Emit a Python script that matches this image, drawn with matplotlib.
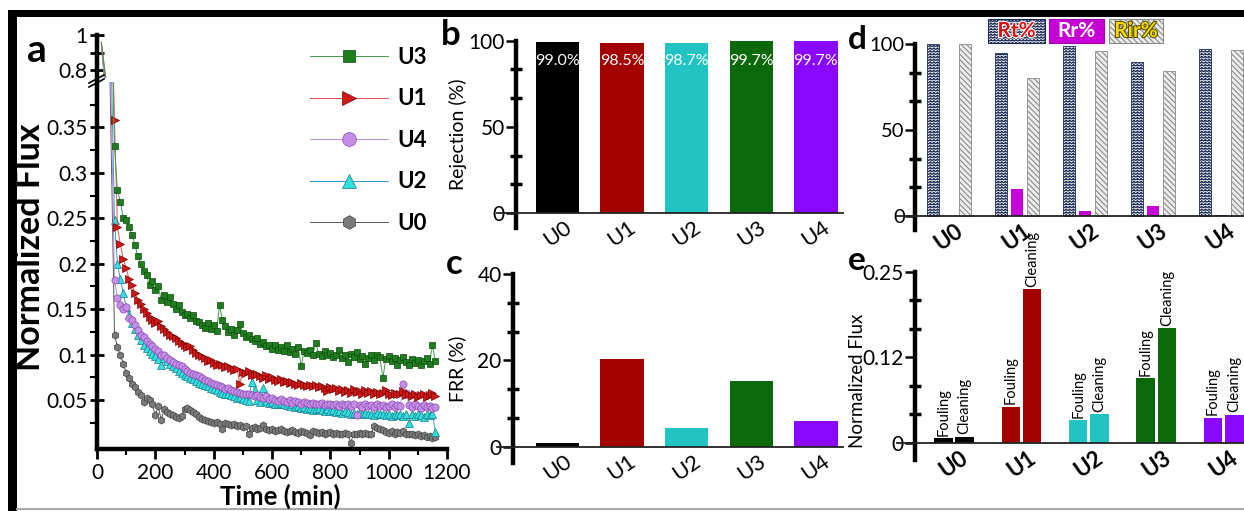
import warnings
warnings.filterwarnings('ignore')
import numpy as np
import matplotlib
matplotlib.use('Agg')
import matplotlib.pyplot as plt
from matplotlib import hatch as mhatch
from matplotlib.path import Path
from matplotlib.patches import Rectangle
from matplotlib.lines import Line2D
from matplotlib.ticker import MultipleLocator, FixedLocator
import matplotlib.patheffects as pe

plt.rcParams['font.family'] = ['Lato', 'DejaVu Sans']
plt.rcParams['hatch.linewidth'] = 0.8

# ---------------- data ----------------
TIME = list(range(60, 1170, 10))
START_TIME = 15
START_VALUES = {'U3': 0.96, 'U1': 0.96, 'U4': 0.95, 'U2': 0.95, 'U0': 0.94}

U3_FLUX = [0.329, 0.281, 0.268, 0.250, 0.248, 0.240, 0.232, 0.221, 0.208, 0.200,
           0.192, 0.187, 0.176, 0.181, 0.171, 0.175, 0.160, 0.166, 0.158, 0.163,
           0.156, 0.150, 0.155, 0.147, 0.143, 0.145, 0.140, 0.143, 0.137, 0.136,
           0.133, 0.129, 0.135, 0.128, 0.132, 0.126, 0.154, 0.138, 0.131, 0.125,
           0.128, 0.122, 0.127, 0.134, 0.124, 0.119, 0.121, 0.117, 0.115, 0.118,
           0.112, 0.114, 0.109, 0.111, 0.106, 0.110, 0.105, 0.108, 0.104, 0.111,
           0.103, 0.106, 0.101, 0.108, 0.087, 0.104, 0.102, 0.105, 0.100, 0.113,
           0.101, 0.098, 0.104, 0.099, 0.102, 0.097, 0.100, 0.105, 0.096, 0.099,
           0.092, 0.101, 0.097, 0.103, 0.095, 0.098, 0.090, 0.096, 0.099, 0.094,
           0.100, 0.097, 0.074, 0.095, 0.098, 0.093, 0.096, 0.089, 0.094, 0.097,
           0.092, 0.088, 0.095, 0.091, 0.094, 0.089, 0.093, 0.096, 0.090, 0.110,
           0.093]
U1_FLUX = [0.358, 0.240, 0.222, 0.205, 0.195, 0.183, 0.176, 0.168, 0.160, 0.156,
           0.150, 0.146, 0.141, 0.138, 0.135, 0.137, 0.131, 0.128, 0.125, 0.122,
           0.120, 0.118, 0.115, 0.113, 0.110, 0.108, 0.109, 0.105, 0.102, 0.100,
           0.098, 0.096, 0.093, 0.094, 0.091, 0.089, 0.090, 0.088, 0.086, 0.087,
           0.085, 0.083, 0.084, 0.068, 0.081, 0.080, 0.082, 0.078, 0.077, 0.079,
           0.076, 0.074, 0.077, 0.073, 0.075, 0.072, 0.071, 0.073, 0.070, 0.071,
           0.069, 0.070, 0.068, 0.067, 0.069, 0.066, 0.065, 0.067, 0.065, 0.066,
           0.064, 0.065, 0.063, 0.060, 0.064, 0.062, 0.063, 0.060, 0.062, 0.059,
           0.061, 0.058, 0.062, 0.059, 0.060, 0.057, 0.061, 0.058, 0.060, 0.057,
           0.059, 0.056, 0.058, 0.061, 0.057, 0.055, 0.058, 0.056, 0.057, 0.060,
           0.055, 0.057, 0.054, 0.056, 0.053, 0.055, 0.057, 0.053, 0.055, 0.058,
           0.054]
U4_FLUX = [0.182, 0.162, 0.155, 0.150, 0.152, 0.140, 0.138, 0.132, 0.127, 0.122,
           0.119, 0.115, 0.112, 0.109, 0.106, 0.104, 0.100, 0.099, 0.096, 0.094,
           0.092, 0.090, 0.088, 0.087, 0.084, 0.082, 0.080, 0.079, 0.077, 0.076,
           0.074, 0.072, 0.071, 0.069, 0.068, 0.067, 0.065, 0.064, 0.062, 0.063,
           0.061, 0.060, 0.059, 0.058, 0.057, 0.056, 0.057, 0.055, 0.054, 0.055,
           0.053, 0.052, 0.054, 0.051, 0.052, 0.050, 0.049, 0.051, 0.049, 0.048,
           0.050, 0.047, 0.049, 0.048, 0.046, 0.048, 0.047, 0.045, 0.047, 0.046,
           0.045, 0.047, 0.044, 0.046, 0.045, 0.044, 0.046, 0.043, 0.045, 0.044,
           0.046, 0.043, 0.045, 0.033, 0.044, 0.042, 0.045, 0.043, 0.044, 0.042,
           0.045, 0.043, 0.044, 0.042, 0.043, 0.045, 0.042, 0.044, 0.043, 0.068,
           0.058, 0.044, 0.042, 0.045, 0.043, 0.041, 0.044, 0.042, 0.043, 0.041,
           0.042]
U2_FLUX = [0.248, 0.200, 0.183, 0.168, 0.152, 0.143, 0.135, 0.128, 0.121, 0.116,
           0.111, 0.107, 0.104, 0.101, 0.098, 0.095, 0.088, 0.096, 0.093, 0.090,
           0.087, 0.085, 0.082, 0.080, 0.078, 0.076, 0.074, 0.073, 0.071, 0.069,
           0.068, 0.066, 0.065, 0.063, 0.062, 0.061, 0.059, 0.058, 0.057, 0.056,
           0.055, 0.054, 0.052, 0.053, 0.051, 0.050, 0.049, 0.070, 0.061, 0.050,
           0.048, 0.063, 0.049, 0.047, 0.048, 0.046, 0.045, 0.047, 0.045, 0.044,
           0.043, 0.045, 0.042, 0.043, 0.041, 0.042, 0.040, 0.041, 0.039, 0.040,
           0.041, 0.039, 0.038, 0.040, 0.038, 0.039, 0.037, 0.038, 0.036, 0.038,
           0.037, 0.035, 0.036, 0.034, 0.037, 0.035, 0.036, 0.034, 0.035, 0.033,
           0.036, 0.034, 0.035, 0.033, 0.034, 0.032, 0.035, 0.033, 0.034, 0.032,
           0.034, 0.025, 0.035, 0.032, 0.034, 0.033, 0.031, 0.034, 0.033, 0.035,
           0.015]
U0_FLUX = [0.122, 0.108, 0.100, 0.090, 0.080, 0.074, 0.068, 0.064, 0.059, 0.055,
           0.048, 0.052, 0.050, 0.045, 0.033, 0.043, 0.028, 0.040, 0.037, 0.035,
           0.033, 0.031, 0.030, 0.032, 0.040, 0.041, 0.039, 0.037, 0.034, 0.031,
           0.029, 0.028, 0.027, 0.026, 0.025, 0.026, 0.024, 0.018, 0.025, 0.023,
           0.022, 0.023, 0.021, 0.022, 0.020, 0.021, 0.012, 0.019, 0.020, 0.018,
           0.019, 0.022, 0.018, 0.017, 0.018, 0.016, 0.017, 0.018, 0.016, 0.015,
           0.016, 0.017, 0.015, 0.014, 0.016, 0.015, 0.014, 0.011, 0.016, 0.015,
           0.014, 0.015, 0.013, 0.014, 0.015, 0.013, 0.014, 0.012, 0.013, 0.014,
           0.012, 0.003, 0.013, 0.012, 0.014, 0.013, 0.014, 0.012, 0.013, 0.021,
           0.019, 0.018, 0.017, 0.015, 0.014, 0.016, 0.013, 0.015, 0.014, 0.016,
           0.013, 0.012, 0.013, 0.011, 0.012, 0.010, 0.011, 0.009, 0.010, 0.008,
           0.009]

MEMBRANES = ['U0', 'U1', 'U2', 'U3', 'U4']
REJECTION = [99.0, 98.5, 98.7, 99.7, 99.7]
REJECTION_LABELS = ['99.0%', '98.5%', '98.7%', '99.7%', '99.7%']
FRR = [0.8, 20.3, 4.4, 15.2, 6.0]
RT = [100.0, 95.1, 99.0, 89.9, 97.2]
RR = [0.0, 15.4, 2.9, 5.8, 0.6]
RIR = [100.0, 80.1, 95.9, 84.4, 96.7]
FOULING = [0.0064, 0.0526, 0.0327, 0.0941, 0.0365]
CLEANING = [0.0088, 0.2243, 0.0415, 0.1672, 0.0405]

BAR_COLORS = ['#000000', '#a30000', '#22c3c3', '#0a690a', '#8a08ff']

# ---------------- custom zig-zag hatch ----------------
class ZigZagHatch(mhatch.HatchPatternBase):
    def __init__(self, hatch, density):
        self.num_rows = int(hatch.count('z') * density)
        self.teeth = int(self.num_rows * 0.8)
        self.num_vertices = self.num_rows * (2 * self.teeth + 1) if self.num_rows else 0

    def set_vertices_and_codes(self, vertices, codes):
        n, k = self.num_rows, self.teeth
        m = 2 * k + 1
        amp = 0.28 / n
        xs = np.linspace(0, 1, m)
        offs = np.where(np.arange(m) % 2 == 0, -amp, amp)
        for r in range(n):
            i = r * m
            vertices[i:i + m, 0] = xs
            vertices[i:i + m, 1] = (r + 0.5) / n + offs
            codes[i] = Path.MOVETO
            codes[i + 1:i + m] = Path.LINETO

mhatch._hatch_types.append(ZigZagHatch)

# ---------------- figure ----------------
W, H = 1244, 511
fig = plt.figure(figsize=(W / 100, H / 100), dpi=100)


def ax_px(x0, y0, x1, y1):
    return fig.add_axes([x0 / W, 1 - y1 / H, (x1 - x0) / W, (y1 - y0) / H])


def fx(x):
    return x / W


def fy(y):
    return 1 - y / H

# frame decorations
fig.add_artist(Rectangle((fx(8), fy(17)), fx(1244 - 8), 7 / H, transform=fig.transFigure,
                         facecolor='black', edgecolor='none'))
fig.add_artist(Rectangle((fx(8), 0), 9 / W, fy(10), transform=fig.transFigure,
                         facecolor='black', edgecolor='none'))
fig.add_artist(Line2D([fx(17), 1], [fy(509), fy(509)], transform=fig.transFigure,
                      color='#aaaaaa', lw=1.5))

# ---------------- panel a ----------------
ax_top = ax_px(97, 35, 447, 78)
ax_bot = ax_px(97, 82, 447, 449)

series = [
    ('U0', U0_FLUX, dict(marker='h', mfc='#7a7a7a', mec='#444444', color='#555555', ms=5.2)),
    ('U2', U2_FLUX, dict(marker='^', mfc='#33dede', mec='#1a7a8a', color='#3a9ad0', ms=5.5)),
    ('U4', U4_FLUX, dict(marker='o', mfc='#c58ee6', mec='#8a4ab0', color='#b890d8', ms=5.2)),
    ('U1', U1_FLUX, dict(marker='>', mfc='#d01818', mec='#7a0000', color='#e05050', ms=5.5)),
    ('U3', U3_FLUX, dict(marker='s', mfc='#1f7d1f', mec='#0b4a0b', color='#3f9f4f', ms=4.5)),
]
handles = {}
for ax in (ax_top, ax_bot):
    for name, vals, st in series:
        st = dict(st)
        ms = st.pop('ms')
        ln, = ax.plot([START_TIME] + TIME[:len(vals)], [START_VALUES[name]] + vals,
                      lw=0.7, markevery=slice(1, None), ms=ms, mew=0.5, **st)
        handles[name] = ln

for ax in (ax_top, ax_bot):
    ax.set_xlim(0, 1200)
    for s in ('top', 'right'):
        ax.spines[s].set_visible(False)
    ax.spines['left'].set_linewidth(3.2)

ax_top.set_ylim(0.757, 1.0)
ax_top.spines['bottom'].set_visible(False)
ax_top.set_xticks([])
ax_top.set_yticks([0.8, 0.9, 1.0])
ax_top.set_yticklabels(['0.8', '', '1'])
ax_top.tick_params(axis='y', direction='inout', length=10, width=2, labelsize=15, pad=2)

ax_bot.set_ylim(-0.004, 0.40)
ax_bot.set_yticks([0.05, 0.1, 0.15, 0.2, 0.25, 0.3, 0.35])
ax_bot.set_yticklabels(['0.05', '0.1', '0.15', '0.2', '0.25', '0.3', '0.35'])
ax_bot.yaxis.set_minor_locator(FixedLocator([0.025, 0.075, 0.125, 0.175, 0.225, 0.275, 0.325, 0.375]))
ax_bot.tick_params(axis='y', which='major', direction='inout', length=10, width=2, labelsize=15, pad=2)
ax_bot.tick_params(axis='y', which='minor', direction='out', length=5, width=1.5)
ax_bot.set_xticks(range(0, 1201, 200))
ax_bot.xaxis.set_minor_locator(MultipleLocator(100))
ax_bot.spines['bottom'].set_linewidth(3.2)
ax_bot.tick_params(axis='x', which='major', direction='out', length=7, width=2, labelsize=15, pad=3)
ax_bot.tick_params(axis='x', which='minor', direction='out', length=4, width=1.5)

# axis break marks
for dy in (0, 4):
    fig.add_artist(Line2D([fx(89), fx(104)], [fy(83 + dy), fy(75 + dy)],
                          transform=fig.transFigure, color='black', lw=1.2))

fig.text(fx(280), fy(496), 'Time (min)', ha='center', va='center', fontsize=18.5, fontweight='bold')
fig.text(fx(30), fy(247), 'Normalized Flux', ha='center', va='center', rotation=90,
         fontsize=24.5, fontweight='bold')

leg_order = ['U3', 'U1', 'U4', 'U2', 'U0']
fig.legend([handles[n] for n in leg_order], leg_order, loc='upper left',
           bbox_to_anchor=(fx(310), fy(47)), frameon=False, handlelength=3.5,
           labelspacing=0.92, markerscale=1.9, prop={'size': 16, 'weight': 'bold'},
           handletextpad=0.45, borderpad=0, borderaxespad=0)

# ---------------- bar panels helpers ----------------
def style_bar(ax, spine_x, ticks6, labels_at, labels, xlim, ylabel_x):
    ax.set_xlim(*xlim)
    for s in ('top', 'right'):
        ax.spines[s].set_visible(False)
    ax.spines['left'].set_position(('data', spine_x))
    ax.spines['bottom'].set_position(('data', 0))
    ax.spines['left'].set_linewidth(3.2)
    ax.spines['bottom'].set_linewidth(1.3)
    ax.spines['bottom'].set_color('#222222')
    ax.set_yticks(labels_at)
    ax.set_yticklabels(labels)
    ax.yaxis.set_minor_locator(FixedLocator(ticks6))
    ax.tick_params(axis='y', which='major', direction='out', length=7, width=1.8,
                   labelsize=15, pad=1)
    ax.tick_params(axis='y', which='minor', direction='inout', length=9, width=2.5)
    ax.set_xticks(range(5))
    ax.set_xticklabels(MEMBRANES, rotation=35, ha='center', va='top')
    ax.tick_params(axis='x', length=0, labelsize=16, pad=3)
    ax.yaxis.set_label_coords(ylabel_x, 0.5)

XLIM_BC = (-0.935, 4.42)

# panel b
ax_b = ax_px(497, 40.7, 843, 228)
ax_b.set_ylim(-8.7, 100)
ax_b.bar(range(5), REJECTION, width=0.67, color=BAR_COLORS, edgecolor='none', zorder=2)
ax_b.set_ylabel('Rejection (%)', fontsize=14)
style_bar(ax_b, -0.64, [100 / 6, 200 / 6, 400 / 6, 500 / 6], [0, 50, 100],
          ['0', '50', '100'], XLIM_BC, (467 - 497) / 346)
for i, lab in enumerate(REJECTION_LABELS):
    ax_b.text(i, 88, lab, ha='center', va='center', color='white', fontsize=11.5, zorder=3)

# panel c
ax_c = ax_px(497, 274.3, 843, 463)
ax_c.set_ylim(-3.8, 40)
ax_c.bar(range(5), FRR, width=0.67, color=BAR_COLORS, edgecolor='none', zorder=2)
ax_c.set_ylabel('FRR (%)', fontsize=14)
style_bar(ax_c, -0.69, [40 / 6, 80 / 6, 160 / 6, 200 / 6], [0, 20, 40],
          ['0', '20', '40'], XLIM_BC, (466 - 497) / 346)

# panel d
ax_d = ax_px(896.7, 44.3, 1244, 230)
ax_d.set_ylim(-8.3, 100)
pos = np.arange(5)
ax_d.bar(pos - 0.235, RT, width=0.176, facecolor='white', edgecolor='#1b2b55',
         hatch='zzzzzz', lw=0.6, zorder=2)
ax_d.bar(pos, RR, width=0.176, color='#c600d6', edgecolor='none', zorder=2)
ax_d.bar(pos + 0.235, RIR, width=0.176, facecolor='#ededed', edgecolor='#8a8a8a',
         hatch='\\\\\\\\\\\\', lw=0.6, zorder=2)
style_bar(ax_d, -0.5, [100 / 6, 200 / 6, 400 / 6, 500 / 6], [0, 50, 100],
          ['0', '50', '100'], (-0.77, 4.34), -0.1)
ax_d.tick_params(axis='y', which='major', labelsize=14.5, pad=0.5)
for lbl in ax_d.get_xticklabels():
    lbl.set_fontweight('bold')

# panel d legend boxes
leg_boxes = [
    (988, 1045, 'Rt%', dict(facecolor='white', edgecolor='#1b2b55', hatch='zzzzzz'),
     '#e01010', 'white'),
    (1049, 1104, 'Rr%', dict(facecolor='#c600d6', edgecolor='#a000b0'), 'white', None),
    (1109, 1163, 'Rir%', dict(facecolor='#ededed', edgecolor='#8a8a8a', hatch='\\\\\\\\\\\\'),
     '#f0d800', '#5a5000'),
]
for x0, x1, txt, props, tcol, stroke in leg_boxes:
    fig.add_artist(Rectangle((fx(x0), fy(43)), (x1 - x0) / W, 24 / H,
                             transform=fig.transFigure, lw=0.8, **props))
    t = fig.text(fx((x0 + x1) / 2), fy(31), txt, ha='center', va='center', color=tcol,
                 fontsize=15, fontweight='bold')
    if stroke:
        t.set_path_effects([pe.withStroke(linewidth=1.6, foreground=stroke)])

# panel e
ax_e = ax_px(896.7, 271.7, 1244, 460)
ax_e.set_ylim(-0.0253, 0.25)
ax_e.bar(pos - 0.158, FOULING, width=0.274, color=BAR_COLORS, edgecolor='none', zorder=2)
ax_e.bar(pos + 0.158, CLEANING, width=0.274, color=BAR_COLORS, edgecolor='none', zorder=2)
ax_e.set_ylabel('Normalized Flux', fontsize=13.5)
style_bar(ax_e, -0.578, [0.25 / 6, 0.5 / 6, 1.0 / 6, 1.25 / 6], [0, 0.125, 0.25],
          ['0', '0.12', '0.25'], (-0.85, 4.3), (866 - 896.7) / 347.3)
ax_e.yaxis.set_label_coords((866 - 896.7) / 347.3, 0.42)
for lbl in ax_e.get_xticklabels():
    lbl.set_fontweight('bold')
for i in range(5):
    ax_e.annotate('Fouling', (pos[i] - 0.158, FOULING[i]), xytext=(0, 2),
                  textcoords='offset points', rotation=90, ha='center', va='bottom',
                  fontsize=10.5, annotation_clip=False)
    ax_e.annotate('Cleaning', (pos[i] + 0.158, CLEANING[i]), xytext=(0, 2),
                  textcoords='offset points', rotation=90, ha='center', va='bottom',
                  fontsize=10.5, annotation_clip=False)

# panel letters
for letter, x, y, size in [('a', 37, 50, 28), ('b', 451, 35, 25), ('c', 454, 264, 25),
                           ('d', 857, 39, 24), ('e', 857, 260, 24)]:
    fig.text(fx(x), fy(y), letter, ha='center', va='center', fontsize=size, fontweight='bold')

fig.savefig('out.png', dpi=100)
